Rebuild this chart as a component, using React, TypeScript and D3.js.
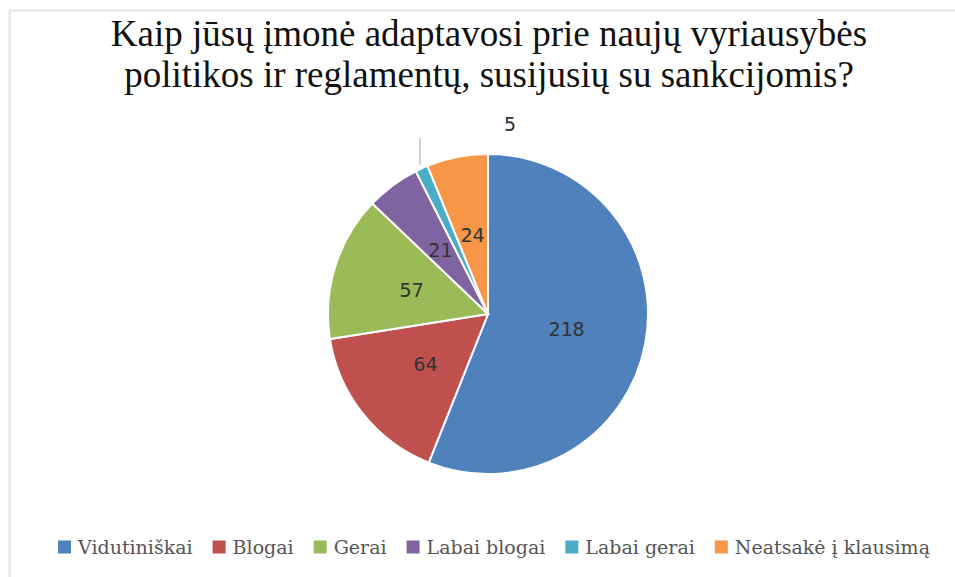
import * as d3 from 'd3'
import {useEffect, useRef} from "react";

const categories = ['Vidutiniškai', 'Blogai', 'Gerai', 'Labai blogai', 'Labai gerai', 'Neatsakė į klausimą']
const values = [218, 64, 57, 21, 5, 24]
const colors = ['#4F81BD', '#C0504D', '#9BBB59', '#8064A2', '#4BACC6', '#F79646']
const titleLines = ['Kaip jūsų įmonė adaptavosi prie naujų vyriausybės', 'politikos ir reglamentų, susijusių su sankcijomis?']

type Slice = { name: string, value: number, color: string }

export default function App() {
  const ref = useRef<SVGSVGElement>(null)
  const width = 955
  const height = 577

  useEffect(() => {
    const svg = d3.select(ref.current)
    svg.selectAll('*').remove()

    // chart frame
    svg.append('rect')
      .attr('x', 9.5).attr('y', 10.5)
      .attr('width', width).attr('height', height)
      .attr('fill', '#fff').attr('stroke', '#e3e3e3').attr('stroke-width', 2)

    // title
    svg.append('g').selectAll('text')
      .data(titleLines)
      .join('text')
      .attr('x', 489)
      .attr('y', (_, i) => 46 + i * 41)
      .attr('text-anchor', 'middle')
      .attr('font-family', '"Liberation Serif", serif')
      .attr('font-size', 37)
      .attr('fill', '#111')
      .text(d => d)

    const data: Slice[] = categories.map((name, i) => ({name, value: values[i], color: colors[i]}))
    const cx = 488, cy = 314, r = 160
    const pie = d3.pie<Slice>().value(d => d.value).sort(null)
    const arcs = pie(data)
    const arc = d3.arc<d3.PieArcDatum<Slice>>().innerRadius(0).outerRadius(r)
    const labelArc = d3.arc<d3.PieArcDatum<Slice>>().innerRadius(r * 0.5).outerRadius(r * 0.5)

    const g = svg.append('g').attr('transform', `translate(${cx},${cy})`)
    g.selectAll('path')
      .data(arcs)
      .join('path')
      .attr('d', arc)
      .attr('fill', d => d.data.color)
      .attr('stroke', '#fff')
      .attr('stroke-width', 2)

    const labelFont = '"DejaVu Sans Mono", monospace'
    // inside labels
    g.selectAll('text.in')
      .data(arcs.filter(d => d.data.value >= 10))
      .join('text')
      .attr('class', 'in')
      .attr('transform', d => `translate(${labelArc.centroid(d)})`)
      .attr('text-anchor', 'middle')
      .attr('dy', '0.35em')
      .attr('font-family', labelFont)
      .attr('font-size', 20)
      .attr('fill', '#333')
      .text(d => d.data.value)

    // small slice: leader line + outside label
    arcs.filter(d => d.data.value < 10).forEach(d => {
      const mid = (d.startAngle + d.endAngle) / 2
      const x0 = Math.sin(mid) * (r + 4)
      const y0 = -Math.cos(mid) * (r + 4)
      g.append('line')
        .attr('x1', x0).attr('y1', y0)
        .attr('x2', x0).attr('y2', -r - 16)
        .attr('stroke', '#a6a6a6').attr('stroke-width', 1)
      g.append('text')
        .attr('x', x0 + 90).attr('y', -r - 30)
        .attr('text-anchor', 'middle')
        .attr('dy', '0.35em')
        .attr('font-family', labelFont)
        .attr('font-size', 20)
        .attr('fill', '#333')
        .text(d.data.value)
    })

    // legend, laid out from measured text widths
    const legend = svg.append('g')
    const sw = 13, gapText = 7, gapItem = 20
    const items = legend.selectAll('g')
      .data(data)
      .join('g')
    items.append('rect')
      .attr('width', sw).attr('height', sw)
      .attr('y', -sw / 2)
      .attr('fill', d => d.color)
    const texts = items.append('text')
      .attr('x', sw + gapText)
      .attr('dy', '0.35em')
      .attr('font-family', '"DejaVu Serif", serif')
      .attr('font-size', 19)
      .attr('fill', '#555')
      .text(d => d.name)
    const widths = texts.nodes().map(n => (n as SVGTextElement).getComputedTextLength())
    const total = d3.sum(widths) + data.length * (sw + gapText) + (data.length - 1) * gapItem
    let x = 494 - total / 2
    items.attr('transform', (_, i) => {
      const t = `translate(${x},547)`
      x += sw + gapText + widths[i] + gapItem
      return t
    })
  }, [])

  return (
    <svg ref={ref} width={width} height={height}
         style={{position: 'absolute', left: 0, top: 0, background: '#fff'}}/>
  )
}
